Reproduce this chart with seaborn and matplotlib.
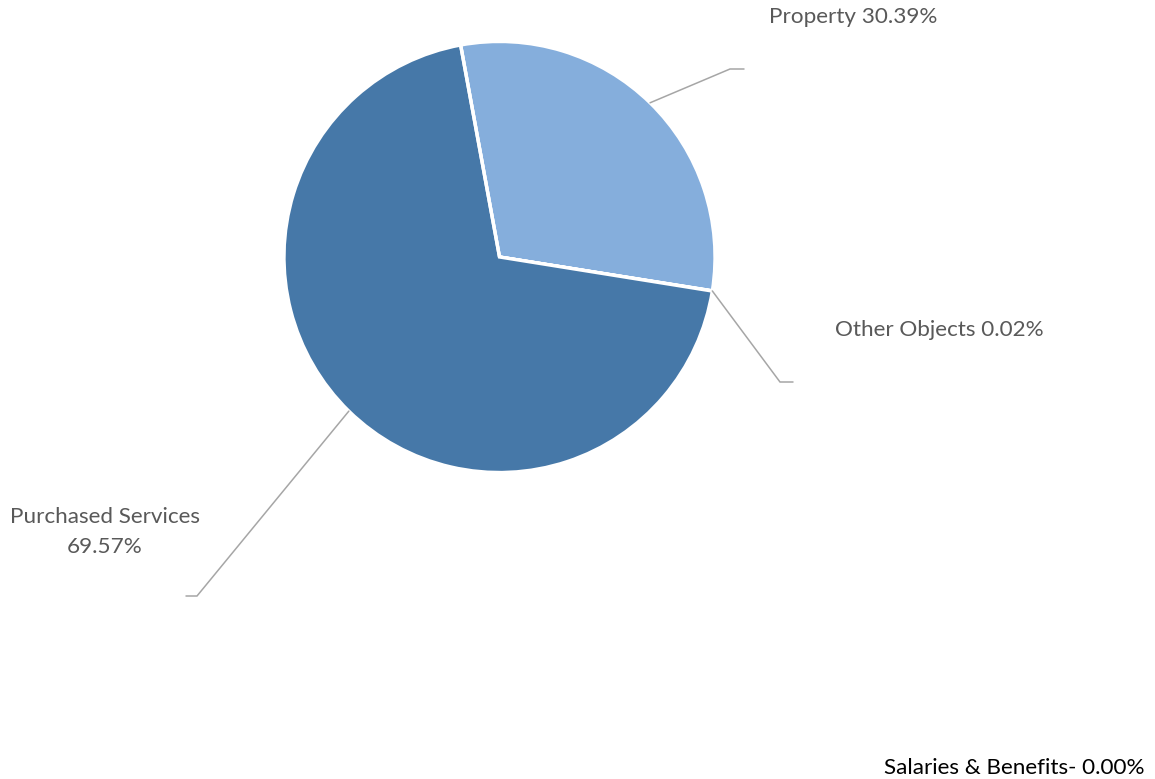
import numpy as np
import matplotlib
matplotlib.use("Agg")
import matplotlib.pyplot as plt
import seaborn as sns

# Expenditure shares by object (percent), listed clockwise from the top slice
categories = ["Property", "Other Objects", "Purchased Services", "Salaries & Benefits"]
shares = [30.39, 0.02, 69.57, 0.00]
labels = ["Property 30.39%", "Other Objects 0.02%", "Purchased Services\n69.57%",
          "Salaries & Benefits- 0.00%"]

slice_colors = ["#85AEDC", "#85AEDC", "#4678A8", "#4678A8"]

sns.set_theme(style="white")
plt.rcParams["font.family"] = ["Lato", "DejaVu Sans"]

W, H = 1155, 779
fig = plt.figure(figsize=(W / 100, H / 100), dpi=100)
ax = fig.add_axes([0, 0, 1, 1])

cx, cy, r = 499.5, H - 257, 215.5
wedges, _ = ax.pie(shares, colors=slice_colors, startangle=100.4, counterclock=False,
                   center=(cx, cy), radius=r, normalize=True,
                   wedgeprops=dict(edgecolor="white", linewidth=2.4, joinstyle="miter"),
                   frame=True)
ax.set_xlim(0, W)
ax.set_ylim(0, H)
ax.axis("off")

text_color = "#595959"
line_color = "#A6A6A6"

# leader line elbows / ends and label anchors (pixel layout, y from top)
callouts = {
    0: dict(elbow=(730, 69), end=(744, 69), text=(769, 17), ha="left"),
    1: dict(elbow=(780, 382), end=(793, 382), text=(835, 330), ha="left"),
    2: dict(elbow=(197, 596), end=(186, 596), text=(105, 532), ha="center"),
}

for i, c in callouts.items():
    w = wedges[i]
    mid = np.deg2rad((w.theta1 + w.theta2) / 2)
    sx, sy = cx + r * np.cos(mid), cy + r * np.sin(mid)
    ex, ey = c["elbow"]
    tx, ty = c["end"]
    ax.plot([sx, ex, tx], [sy, H - ey, H - ty], color=line_color, lw=1.1,
            solid_joinstyle="miter")
    ax.text(c["text"][0], H - c["text"][1], labels[i], ha=c["ha"], va="center",
            color=text_color, fontsize=16.2, linespacing=1.65)

ax.text(1145, H - 768, labels[3], ha="right", va="center", color="black", fontsize=16.2)

fig.savefig("out.png", dpi=100)
